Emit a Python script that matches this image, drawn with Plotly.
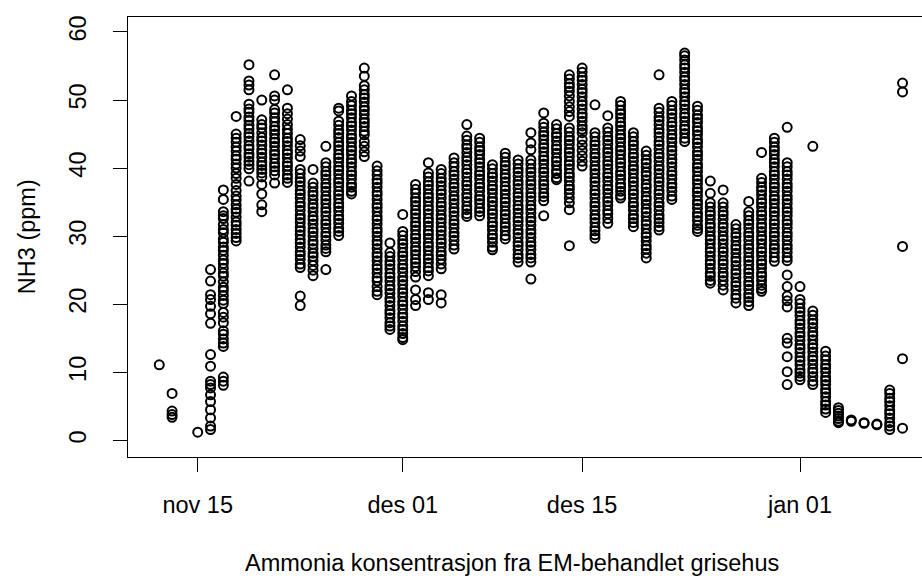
import plotly.graph_objects as go
from datetime import datetime, timedelta

# ---- data: daily columns of NH3 readings (ppm) ----
dates = [
    "2015-11-12", "2015-11-13", "2015-11-15", "2015-11-16", "2015-11-17", "2015-11-18",
    "2015-11-19", "2015-11-20", "2015-11-21", "2015-11-22", "2015-11-23", "2015-11-24",
    "2015-11-25", "2015-11-26", "2015-11-27", "2015-11-28", "2015-11-29", "2015-11-30",
    "2015-12-01", "2015-12-02", "2015-12-03", "2015-12-04", "2015-12-05", "2015-12-06",
    "2015-12-07", "2015-12-08", "2015-12-09", "2015-12-10", "2015-12-11", "2015-12-12",
    "2015-12-13", "2015-12-14", "2015-12-15", "2015-12-16", "2015-12-17", "2015-12-18",
    "2015-12-19", "2015-12-20", "2015-12-21", "2015-12-22", "2015-12-23", "2015-12-24",
    "2015-12-25", "2015-12-26", "2015-12-27", "2015-12-28", "2015-12-29", "2015-12-30",
    "2015-12-31", "2016-01-01", "2016-01-02", "2016-01-03", "2016-01-04", "2016-01-05",
    "2016-01-06", "2016-01-07", "2016-01-08", "2016-01-09",
]

nh3_values = [
    [11.1],
    [6.9, 4.3, 3.8, 3.4],
    [1.2],
    [25.1, 23.4, 21.4, 20.7, 19.7, 18.6, 17.2, 12.6, 10.9, 8.7, 8.2, 7.7, 6.7, 5.7, 4.5, 3.3, 2.1, 1.6],
    [36.8, 35.4, 33.6, 33.0, 32.6, 31.7, 31.0, 30.5, 29.6, 29.1, 28.4, 27.9, 27.2, 26.5, 26.0, 25.3,
     24.6, 24.1, 23.3, 22.5, 22.0, 21.3, 20.6, 20.1, 18.8, 18.1, 17.3, 16.1, 15.6, 14.9, 14.3, 13.8,
     9.3, 8.7, 8.1],
    [47.6, 45.0, 44.4, 43.8, 43.1, 42.5, 41.8, 41.3, 40.6, 40.0, 39.2, 38.5, 37.6, 36.7, 35.9, 35.3,
     34.6, 34.0, 33.5, 32.8, 32.1, 31.6, 31.0, 30.4, 29.8, 29.3],
    [55.2, 52.8, 52.2, 51.5, 49.4, 48.7, 48.2, 47.5, 47.0, 46.3, 45.8, 45.1, 44.6, 44.0, 43.3, 42.8,
     42.1, 41.6, 41.0, 40.5, 39.9, 38.1],
    [50.0, 47.1, 46.4, 45.9, 45.2, 44.5, 44.0, 43.4, 42.7, 42.2, 41.6, 40.9, 40.4, 39.8, 39.3, 38.7,
     37.6, 36.2, 34.6, 33.6],
    [53.7, 50.6, 50.0, 48.6, 48.1, 47.4, 46.8, 46.1, 45.6, 45.0, 44.3, 43.8, 43.2, 42.5, 42.0, 41.4,
     40.7, 40.2, 39.6, 39.0, 37.8],
    [51.5, 48.8, 48.0, 47.2, 46.4, 45.7, 45.1, 44.4, 43.9, 43.3, 42.6, 42.1, 41.5, 40.8, 40.3, 39.7,
     39.0, 38.5, 37.9],
    [44.2, 43.3, 42.5, 41.7, 39.8, 39.2, 38.5, 38.0, 37.4, 36.7, 36.2, 35.6, 34.9, 34.4, 33.8, 33.1,
     32.6, 32.0, 31.3, 30.8, 30.2, 29.5, 29.0, 28.4, 27.7, 27.2, 26.6, 25.9, 25.4, 21.2, 19.8],
    [39.8, 37.8, 37.2, 36.5, 36.0, 35.4, 34.7, 34.2, 33.6, 32.9, 32.4, 31.8, 31.1, 30.6, 30.0, 29.3,
     28.8, 28.2, 27.5, 27.0, 26.4, 25.7, 25.0, 24.2],
    [43.2, 40.8, 40.2, 39.5, 39.0, 38.4, 37.7, 37.2, 36.6, 35.9, 35.4, 34.8, 34.1, 33.6, 33.0, 32.3,
     31.8, 31.2, 30.5, 30.0, 29.4, 28.7, 28.2, 27.7, 25.1],
    [48.8, 48.4, 46.9, 46.3, 45.6, 45.1, 44.5, 43.8, 43.3, 42.7, 42.0, 41.5, 40.9, 40.2, 39.7, 39.1,
     38.4, 37.9, 37.3, 36.6, 36.1, 35.5, 34.8, 34.3, 33.7, 33.0, 32.5, 31.9, 31.2, 30.7, 30.1],
    [50.6, 49.8, 49.2, 48.5, 48.0, 47.4, 46.7, 46.2, 45.6, 44.9, 44.4, 43.8, 43.1, 42.6, 42.0, 41.3,
     40.8, 40.2, 39.5, 39.0, 38.4, 37.7, 37.2, 36.6, 36.2],
    [54.7, 53.5, 52.1, 51.5, 50.8, 50.3, 49.7, 49.0, 48.5, 47.9, 47.2, 46.7, 46.1, 45.4, 44.9, 43.9,
     43.2, 42.4, 41.7],
    [40.3, 39.6, 39.0, 38.3, 37.8, 37.2, 36.5, 36.0, 35.4, 34.7, 34.2, 33.6, 32.9, 32.4, 31.8, 31.1,
     30.6, 30.0, 29.3, 28.8, 28.2, 27.5, 27.0, 26.4, 25.7, 25.2, 24.6, 23.9, 23.4, 22.6, 21.9, 21.4],
    [29.0, 27.6, 27.0, 26.3, 25.8, 25.2, 24.5, 24.0, 23.4, 22.7, 22.2, 21.6, 20.9, 20.4, 19.8, 19.1,
     18.6, 18.0, 17.3, 16.8, 16.3],
    [33.2, 30.7, 30.1, 29.4, 28.9, 28.3, 27.6, 27.1, 26.5, 25.8, 25.3, 24.7, 24.0, 23.5, 22.9, 22.2,
     21.7, 21.1, 20.4, 19.9, 19.3, 18.6, 18.1, 17.5, 16.8, 16.3, 15.7, 15.1, 14.8],
    [37.6, 36.9, 36.3, 35.6, 35.1, 34.5, 33.8, 33.3, 32.7, 32.0, 31.5, 30.9, 30.2, 29.7, 29.1, 28.4,
     27.9, 27.3, 26.6, 26.1, 25.5, 24.8, 24.0, 22.1, 20.7, 19.8],
    [40.8, 39.3, 38.7, 38.0, 37.5, 36.9, 36.2, 35.7, 35.1, 34.4, 33.9, 33.3, 32.6, 32.1, 31.5, 30.8,
     30.3, 29.7, 29.0, 28.5, 27.9, 27.2, 26.7, 26.1, 25.4, 24.9, 24.2, 21.7, 20.7],
    [39.8, 39.2, 38.5, 38.0, 37.4, 36.7, 36.2, 35.6, 34.9, 34.4, 33.8, 33.1, 32.6, 32.0, 31.3, 30.8,
     30.2, 29.5, 29.0, 28.4, 27.7, 27.2, 26.6, 25.9, 25.2, 21.4, 20.2],
    [41.5, 40.8, 40.2, 39.5, 39.0, 38.4, 37.7, 37.2, 36.6, 35.9, 35.4, 34.8, 34.1, 33.6, 33.0, 32.3,
     31.8, 31.2, 30.5, 30.0, 29.4, 28.7, 28.1],
    [46.4, 44.7, 44.1, 43.4, 42.9, 42.3, 41.6, 41.1, 40.5, 39.8, 39.3, 38.7, 38.0, 37.5, 36.9, 36.2,
     35.7, 35.1, 34.4, 33.9, 33.3, 32.9],
    [44.4, 43.8, 43.1, 42.6, 42.0, 41.3, 40.8, 40.2, 39.5, 39.0, 38.4, 37.7, 37.2, 36.6, 35.9, 35.4,
     34.8, 34.1, 33.6, 33.0],
    [40.5, 39.9, 39.2, 38.7, 38.1, 37.4, 36.9, 36.3, 35.6, 35.1, 34.5, 33.8, 33.3, 32.7, 32.0, 31.5,
     30.9, 30.2, 29.7, 29.1, 28.4, 28.0],
    [42.2, 41.6, 40.9, 40.4, 39.8, 39.1, 38.6, 38.0, 37.3, 36.8, 36.2, 35.5, 35.0, 34.4, 33.7, 33.2,
     32.6, 31.9, 31.4, 30.8, 30.1, 29.6],
    [41.2, 40.6, 39.9, 39.4, 38.8, 38.1, 37.6, 37.0, 36.3, 35.8, 35.2, 34.5, 34.0, 33.4, 32.7, 32.2,
     31.6, 30.9, 30.4, 29.8, 29.1, 28.6, 28.0, 27.3, 26.8, 26.2],
    [45.2, 43.7, 42.7, 41.2, 40.6, 39.9, 39.4, 38.8, 38.1, 37.6, 37.0, 36.3, 35.8, 35.2, 34.5, 34.0,
     33.4, 32.7, 32.2, 31.6, 30.9, 30.4, 29.8, 29.1, 28.6, 28.0, 27.3, 26.8, 26.2, 23.7],
    [48.1, 46.6, 46.0, 45.3, 44.8, 44.2, 43.5, 43.0, 42.4, 41.7, 41.2, 40.6, 39.9, 39.4, 38.8, 38.1,
     37.6, 37.0, 36.3, 35.8, 35.2, 33.0],
    [46.4, 45.8, 45.1, 44.6, 44.0, 43.3, 42.8, 42.2, 41.5, 41.0, 40.4, 39.7, 39.2, 38.6, 38.3],
    [53.7, 53.1, 52.4, 51.9, 51.3, 50.6, 49.8, 49.0, 48.3, 47.6, 45.9, 45.3, 44.6, 44.1, 43.5, 42.8,
     42.3, 41.7, 41.0, 40.5, 39.9, 39.2, 38.7, 38.1, 37.4, 36.9, 36.3, 35.6, 34.9, 33.9, 28.6],
    [54.7, 54.1, 53.4, 52.9, 52.3, 51.6, 51.1, 50.5, 49.8, 49.3, 48.7, 48.0, 47.5, 46.9, 46.2, 45.7,
     45.2, 44.2, 43.4, 42.6, 41.8, 41.0, 40.3],
    [49.3, 45.2, 44.6, 43.9, 43.4, 42.8, 42.1, 41.6, 41.0, 40.3, 39.8, 39.2, 38.5, 38.0, 37.4, 36.7,
     36.2, 35.6, 34.9, 34.4, 33.8, 33.1, 32.6, 32.0, 31.3, 30.8, 30.2, 29.7],
    [47.7, 45.9, 45.3, 44.6, 44.1, 43.5, 42.8, 42.3, 41.7, 41.0, 40.5, 39.9, 39.2, 38.7, 38.1, 37.4,
     36.9, 36.3, 35.6, 35.1, 34.5, 33.8, 33.3, 32.6, 31.9],
    [49.8, 49.2, 48.5, 48.0, 47.4, 46.7, 46.2, 45.6, 44.9, 44.4, 43.8, 43.1, 42.6, 42.0, 41.3, 40.8,
     40.2, 39.5, 39.0, 38.4, 37.7, 37.2, 36.6, 36.0, 35.6],
    [45.2, 44.6, 43.9, 43.4, 42.8, 42.1, 41.6, 41.0, 40.3, 39.8, 39.2, 38.5, 38.0, 37.4, 36.7, 36.2,
     35.6, 34.9, 34.4, 33.8, 33.1, 32.6, 32.0, 31.4],
    [42.5, 41.9, 41.2, 40.7, 40.1, 39.4, 38.9, 38.3, 37.6, 37.1, 36.5, 35.8, 35.3, 34.7, 34.0, 33.5,
     32.9, 32.2, 31.7, 31.1, 30.4, 29.9, 29.3, 28.6, 28.1, 27.5, 26.8],
    [53.7, 48.8, 48.2, 47.5, 47.0, 46.4, 45.7, 45.2, 44.6, 43.9, 43.4, 42.8, 42.1, 41.6, 41.0, 40.3,
     39.8, 39.2, 38.5, 38.0, 37.4, 36.7, 36.2, 35.6, 34.9, 34.4, 33.8, 33.1, 32.6, 32.0, 31.4, 30.9],
    [49.8, 49.2, 48.5, 48.0, 47.4, 46.7, 46.2, 45.6, 44.9, 44.4, 43.8, 43.1, 42.6, 42.0, 41.3, 40.8,
     40.2, 39.5, 39.0, 38.4, 37.7, 37.2, 36.6, 35.9, 35.4],
    [56.9, 56.5, 55.9, 55.2, 54.7, 54.1, 53.4, 52.9, 52.3, 51.6, 51.1, 50.5, 49.8, 49.3, 48.7, 48.0,
     47.5, 46.9, 46.2, 45.7, 45.1, 44.4, 43.9],
    [49.1, 48.5, 47.8, 47.3, 46.7, 46.0, 45.5, 44.9, 44.2, 43.7, 43.1, 42.4, 41.9, 41.3, 40.6, 40.1,
     39.5, 38.8, 38.3, 37.7, 37.0, 36.5, 35.9, 35.2, 34.7, 34.1, 33.4, 32.9, 32.3, 31.6, 31.1, 30.7],
    [38.1, 36.3, 34.9, 34.3, 33.6, 33.1, 32.5, 31.8, 31.3, 30.7, 30.0, 29.5, 28.9, 28.2, 27.7, 27.1,
     26.4, 25.9, 25.3, 24.6, 24.1, 23.5, 23.1],
    [36.8, 34.9, 34.3, 33.6, 33.1, 32.5, 31.8, 31.3, 30.7, 30.0, 29.5, 28.9, 28.2, 27.7, 27.1, 26.4,
     25.9, 25.3, 24.6, 24.1, 23.5, 22.8, 22.1],
    [31.7, 31.1, 30.4, 29.9, 29.3, 28.6, 28.1, 27.5, 26.8, 26.3, 25.7, 25.0, 24.5, 23.9, 23.2, 22.7,
     22.1, 21.4, 20.9, 20.2],
    [35.1, 33.6, 33.0, 32.3, 31.8, 31.2, 30.5, 30.0, 29.4, 28.7, 28.2, 27.6, 26.9, 26.4, 25.8, 25.1,
     24.6, 24.0, 23.3, 22.8, 22.2, 21.5, 21.0, 20.4, 19.8],
    [42.3, 38.5, 37.9, 37.2, 36.7, 36.1, 35.4, 34.9, 34.3, 33.6, 33.1, 32.5, 31.8, 31.3, 30.7, 30.0,
     29.5, 28.9, 28.2, 27.7, 27.1, 26.4, 25.9, 25.3, 24.6, 24.1, 23.5, 22.8, 22.3, 21.9],
    [44.4, 43.8, 43.1, 42.6, 42.0, 41.3, 40.8, 40.2, 39.5, 39.0, 38.4, 37.7, 37.2, 36.6, 35.9, 35.4,
     34.8, 34.1, 33.6, 33.0, 32.3, 31.8, 31.2, 30.5, 30.0, 29.4, 28.7, 28.2, 27.6, 26.9, 26.3],
    [46.0, 40.8, 40.2, 39.5, 39.0, 38.4, 37.7, 37.2, 36.6, 35.9, 35.4, 34.8, 34.1, 33.6, 33.0, 32.3,
     31.8, 31.2, 30.5, 30.0, 29.4, 28.7, 28.2, 27.6, 26.9, 26.4, 24.3, 22.6, 21.2, 20.5, 19.6, 15.0,
     14.3, 12.3, 10.1, 8.2],
    [22.6, 20.7, 20.1, 19.4, 18.9, 18.3, 17.6, 17.1, 16.5, 15.8, 15.3, 14.7, 14.0, 13.5, 12.9, 12.2,
     11.7, 11.1, 10.4, 9.9, 9.4, 8.9],
    [43.2, 19.0, 18.4, 17.7, 17.2, 16.6, 15.9, 15.4, 14.8, 14.1, 13.6, 13.0, 12.3, 11.8, 11.2, 10.5,
     10.0, 9.4, 8.7, 8.2],
    [13.1, 12.4, 11.8, 11.1, 10.6, 10.0, 9.3, 8.8, 8.2, 7.5, 7.0, 6.4, 5.7, 5.2, 4.6, 4.1],
    [4.8, 4.4, 4.0, 3.6, 3.2, 2.8, 2.6],
    [3.0, 2.8],
    [2.6, 2.5],
    [2.4, 2.3],
    [7.4, 6.9, 6.2, 5.7, 5.1, 4.4, 3.9, 3.3, 2.6, 2.1, 1.6],
    [52.5, 51.2, 28.5, 12.0, 1.8],
]

tick_dates = ["2015-11-15", "2015-12-01", "2015-12-15", "2016-01-01"]
tick_labels = ["nov 15", "des 01", "des 15", "jan 01"]
y_ticks = [0, 10, 20, 30, 40, 50, 60]

x_title = "Ammonia konsentrasjon fra EM-behandlet grisehus"
y_title = "NH3 (ppm)"

# ---- flatten ----
xs, ys = [], []
for d, vals in zip(dates, nh3_values):
    xs.extend([d] * len(vals))
    ys.extend(vals)

FONT = "Liberation Sans, Arial, sans-serif"
FS = 23.5

fig = go.Figure(
    go.Scatter(
        x=xs, y=ys, mode="markers",
        marker=dict(symbol="circle-open", size=9, color="black",
                    line=dict(width=2.0, color="black")),
        hoverinfo="skip", showlegend=False,
    )
)

base = datetime(2015, 11, 15)
x_left = base + timedelta(days=-5.44)
x_right = base + timedelta(days=56.52)

fig.update_layout(
    width=922, height=579,
    margin=dict(l=128, r=0, t=17, b=122),
    paper_bgcolor="white", plot_bgcolor="white",
    font=dict(family=FONT, size=FS, color="black"),
    xaxis=dict(
        type="date",
        range=[x_left.isoformat(), x_right.isoformat()],
        tickvals=tick_dates, ticktext=tick_labels,
        ticks="outside", ticklen=14, tickwidth=1, tickcolor="black",
        showline=True, linecolor="black", linewidth=1, mirror=True,
        showgrid=False, zeroline=False,
        ticklabelstandoff=13,
        tickfont=dict(family=FONT, size=FS, color="black"),
    ),
    yaxis=dict(
        range=[-2.44, 62.2],
        tickvals=y_ticks,
        ticks="outside", ticklen=14, tickwidth=1, tickcolor="black",
        showline=True, linecolor="black", linewidth=1, mirror=False,
        showgrid=False, zeroline=False,
        tickangle=-90,
        ticklabelstandoff=18,
        tickfont=dict(family=FONT, size=FS, color="black"),
    ),
    annotations=[
        dict(text=x_title, xref="paper", yref="paper", x=0.483, y=-0.241,
             xanchor="center", yanchor="middle", showarrow=False,
             font=dict(family=FONT, size=FS, color="black")),
        dict(text=y_title, xref="paper", yref="paper", x=-0.127, y=0.5,
             xanchor="center", yanchor="middle", showarrow=False, textangle=-90,
             font=dict(family=FONT, size=FS, color="black")),
    ],
)

fig.write_html(
    "out.html",
    config={"displayModeBar": False},
    post_script="document.body.style.margin='0';document.body.style.padding='0';document.body.style.overflow='hidden';",
)
